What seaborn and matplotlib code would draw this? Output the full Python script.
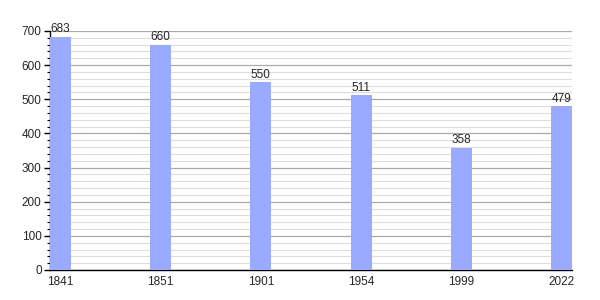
import matplotlib
matplotlib.use("Agg")
import matplotlib.pyplot as plt
import seaborn as sns
import pandas as pd
from matplotlib.ticker import MultipleLocator

years = ["1841", "1851", "1901", "1954", "1999", "2022"]
population = [683, 660, 550, 511, 358, 479]

sns.set_style("white")
plt.rcParams['font.family'] = ['Liberation Sans', 'DejaVu Sans']

df = pd.DataFrame({"year": years, "pop": population})
fig = plt.figure(figsize=(6, 3), dpi=100)
ax = fig.add_axes([0.0833, 0.1, 0.87, 0.797])
sns.barplot(data=df, x="year", y="pop", color="#99aaff", saturation=1, width=0.21,
            linewidth=0, edgecolor="none", ax=ax, zorder=3)
ax.set_xlim(-0.105, 5.105)
ax.set_ylim(0, 700)
ax.yaxis.set_major_locator(MultipleLocator(100))
ax.yaxis.set_minor_locator(MultipleLocator(20))
ax.grid(which="major", axis="y", color="#aaaaaa", linewidth=0.9, zorder=0)
ax.grid(which="minor", axis="y", color="#dddddd", linewidth=0.8, zorder=0)
ax.set_axisbelow(True)
for s in ["top", "right"]:
    ax.spines[s].set_visible(False)
for s in ["left", "bottom"]:
    ax.spines[s].set_color("black")
    ax.spines[s].set_linewidth(1)
ax.tick_params(axis="y", which="major", left=True, length=4, width=1, color="black", labelsize=8.5, pad=2)
ax.tick_params(axis="y", which="minor", left=True, length=2, width=0.8, color="black")
ax.tick_params(axis="x", bottom=False, labelsize=8.5, pad=1)
ax.set_xlabel("")
ax.set_ylabel("")
for c in ax.containers:
    ax.bar_label(c, fmt="%d", fontsize=8.5, padding=1)
fig.savefig("out.png", dpi=100)
